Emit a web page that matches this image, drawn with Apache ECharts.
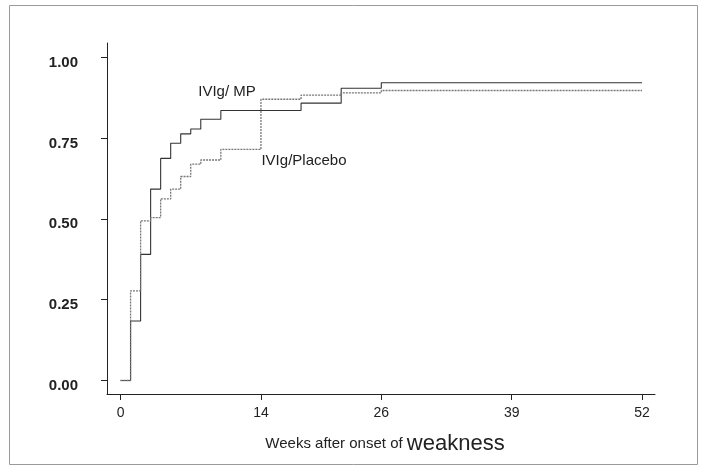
<!DOCTYPE html>
<html>
<head>
<meta charset="utf-8">
<script src="https://cdn.jsdelivr.net/npm/echarts@6/dist/echarts.min.js"></script>
<style>
  html, body { margin: 0; padding: 0; background: #fff; }
  #chart { width: 701px; height: 466px; }
</style>
</head>
<body>
<div id="chart"></div>
<script>
// Cumulative proportion improved (Kaplan-Meier style steps)
const weeksMP   = [0, 1, 2, 3, 4, 5, 6, 7, 8, 10, 18, 22, 26, 52];
const propMP    = [0, 0.184, 0.390, 0.592, 0.687, 0.734, 0.763, 0.778, 0.808, 0.835, 0.858, 0.904, 0.921, 0.921];
const weeksPl   = [0, 1, 2, 3, 4, 5, 6, 7, 8, 10, 14, 18, 22, 26, 52];
const propPl    = [0, 0.277, 0.494, 0.504, 0.562, 0.592, 0.631, 0.669, 0.682, 0.715, 0.870, 0.883, 0.890, 0.897, 0.897];
const xTicks    = [0, 14, 26, 39, 52];
const yTicks    = [0, 0.25, 0.5, 0.75, 1.0];
const nameMP    = 'IVIg/ MP';
const namePl    = 'IVIg/Placebo';
const labelMP   = [7.7, 0.893];
const labelPl   = [14.0, 0.679];

const chart = echarts.init(document.getElementById('chart'), null, { renderer: 'canvas' });
const axisColor = '#222';
const font = "'Liberation Sans', Arial, Helvetica, sans-serif";

function markLabel(coord, text) {
  return {
    symbol: 'rect',
    symbolSize: 1,
    silent: true,
    itemStyle: { color: 'rgba(0,0,0,0)' },
    label: {
      show: true, position: 'right', distance: 0,
      formatter: text, color: '#222', fontSize: 15, fontFamily: font
    },
    data: [{ coord: coord }]
  };
}

chart.setOption({
  animation: false,
  backgroundColor: '#fff',
  grid: { left: 107, top: 43, right: 46, bottom: 72 },
  xAxis: {
    type: 'value',
    min: -1.35, max: 53.29,
    splitLine: { show: false },
    axisLine: { show: true, onZero: false, lineStyle: { color: axisColor, width: 1 } },
    axisTick: { show: true, inside: false, length: 6, customValues: xTicks, lineStyle: { color: axisColor } },
    axisLabel: {
      customValues: xTicks, margin: 12, color: '#222', fontSize: 14,
      fontFamily: "'Liberation Sans Narrow', 'Liberation Sans', Arial, sans-serif"
    },
    name: '{a|Weeks after onset of }{b|weakness}',
    nameLocation: 'middle',
    nameGap: 39,
    nameTextStyle: {
      padding: [0, 0, 0, 8],
      rich: {
        a: { fontSize: 15, color: '#222', fontFamily: font },
        b: { fontSize: 22, color: '#222', fontFamily: font }
      }
    }
  },
  yAxis: {
    type: 'value',
    min: -0.0418, max: 1.044,
    splitLine: { show: false },
    axisLine: { show: true, onZero: false, lineStyle: { color: axisColor, width: 1 } },
    axisTick: { show: true, inside: false, length: 6, customValues: yTicks, lineStyle: { color: axisColor } },
    axisLabel: {
      customValues: yTicks, margin: 29, color: '#222', fontSize: 15, fontWeight: 'bold',
      fontFamily: font, verticalAlign: 'top', lineHeight: 11,
      formatter: v => v.toFixed(2)
    }
  },
  series: [
    {
      name: nameMP, type: 'line', step: 'end', symbol: 'none',
      data: weeksMP.map((w, i) => [w, propMP[i]]),
      lineStyle: { color: '#333', width: 1.1, type: 'solid' },
      markPoint: markLabel(labelMP, nameMP)
    },
    {
      name: namePl, type: 'line', step: 'end', symbol: 'none',
      data: weeksPl.map((w, i) => [w, propPl[i]]),
      lineStyle: { color: '#777', width: 1.3, type: [2, 1] },
      markPoint: markLabel(labelPl, namePl)
    }
  ],
  graphic: [{
    type: 'rect', silent: true, z: -1,
    shape: { x: 9.5, y: 5.5, width: 688, height: 459 },
    style: { fill: 'none', stroke: '#9a9a9a', lineWidth: 1 }
  }]
});
</script>
</body>
</html>
